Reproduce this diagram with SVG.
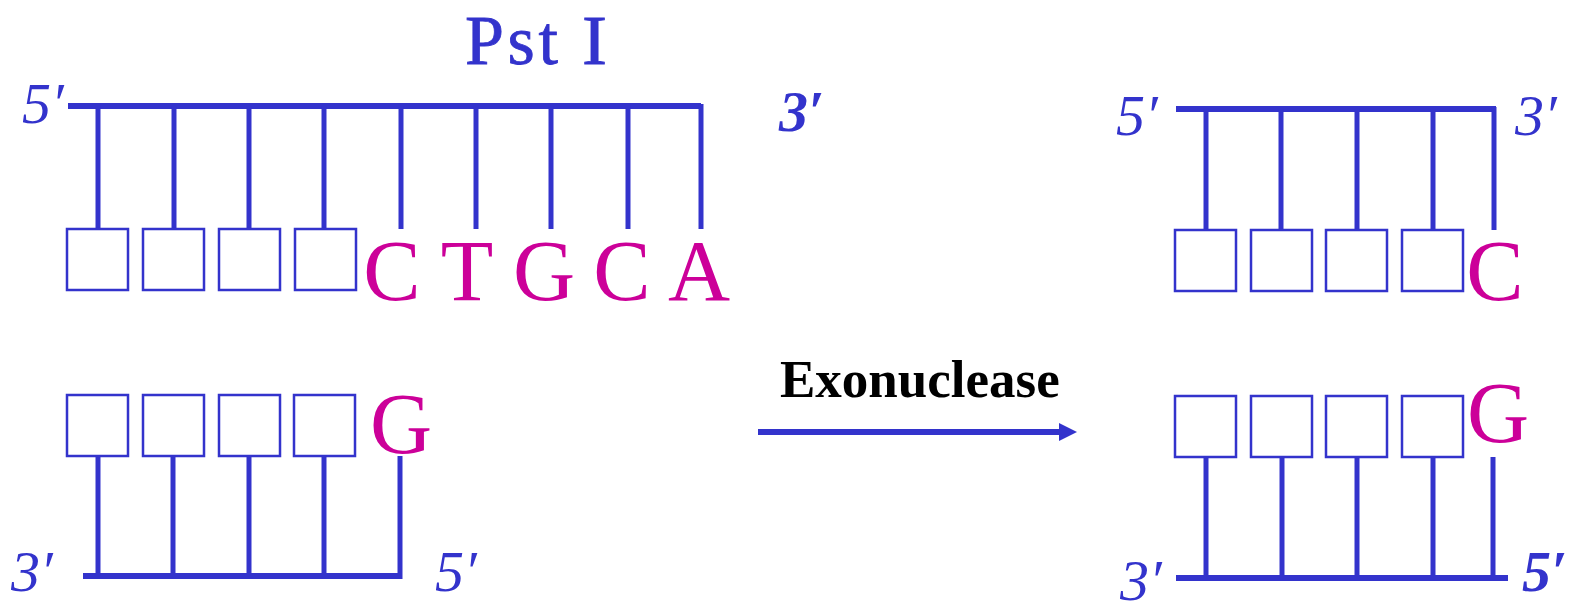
<svg xmlns="http://www.w3.org/2000/svg" width="1576" height="610" viewBox="0 0 1576 610">
  <style>
    .bb { stroke: #3333CC; stroke-width: 6; fill: none; }
    .st { stroke: #3333CC; stroke-width: 5; fill: none; }
    .box { stroke: #3333CC; stroke-width: 2.5; fill: #fff; }
    .end { font-family: "Liberation Serif", serif; font-size: 58px; font-style: italic; fill: #3333CC; }
    .endb { font-family: "Liberation Serif", serif; font-size: 58px; font-style: italic; font-weight: bold; fill: #3333CC; }
    .base { font-family: "Liberation Serif", serif; font-size: 86px; fill: #CC0099; text-anchor: middle; }
    .lbl { font-family: "Liberation Serif", serif; font-size: 53px; font-weight: bold; fill: #000; }
    .site { font-family: "Liberation Serif", serif; font-size: 70px; fill: #3333CC; stroke: #3333CC; stroke-width: 0.8; }
  </style>
  <defs>
    <marker id="arrowHead" viewBox="0 0 10 10" refX="0" refY="5" markerWidth="18" markerHeight="18" orient="auto" markerUnits="userSpaceOnUse">
      <path d="M0,0 L10,5 L0,10 z" fill="#3333CC"/>
    </marker>
  </defs>
  <rect width="1576" height="610" fill="#fff"/>

  <!-- recognition site label -->
  <g id="pst1">
    <text class="site" x="465" y="64" textLength="93" lengthAdjust="spacing">Pst</text>
    <text class="site" x="582" y="64" textLength="25" lengthAdjust="spacingAndGlyphs">I</text>
  </g>

  <!-- cut strand, top left: 5' ... 3' -->
  <g id="strand-top-left">
    <line class="bb" x1="68" y1="106" x2="701" y2="106"/>
    <line class="st" x1="98" y1="106" x2="98" y2="229"/>
    <line class="st" x1="174" y1="106" x2="174" y2="229"/>
    <line class="st" x1="249" y1="106" x2="249" y2="229"/>
    <line class="st" x1="324" y1="106" x2="324" y2="229"/>
    <line class="st" x1="401" y1="106" x2="401" y2="229"/>
    <line class="st" x1="476" y1="106" x2="476" y2="229"/>
    <line class="st" x1="551" y1="106" x2="551" y2="229"/>
    <line class="st" x1="628" y1="106" x2="628" y2="229"/>
    <line class="st" x1="701" y1="104" x2="701" y2="229"/>
    <rect class="box" x="67" y="229" width="61" height="61"/>
    <rect class="box" x="143" y="229" width="61" height="61"/>
    <rect class="box" x="219" y="229" width="61" height="61"/>
    <rect class="box" x="295" y="229" width="61" height="61"/>
    <text class="base" x="392" y="300">C</text>
    <text class="base" x="467" y="300">T</text>
    <text class="base" x="544" y="300">G</text>
    <text class="base" x="622" y="300">C</text>
    <text class="base" x="699" y="300">A</text>
    <text class="end" x="22" y="123">5′</text>
    <text class="endb" x="779" y="131">3′</text>
  </g>

  <!-- complementary strand, bottom left: 3' ... 5' -->
  <g id="strand-bottom-left">
    <rect class="box" x="67" y="395" width="61" height="61"/>
    <rect class="box" x="143" y="395" width="61" height="61"/>
    <rect class="box" x="219" y="395" width="61" height="61"/>
    <rect class="box" x="294" y="395" width="61" height="61"/>
    <text class="base" x="401" y="453">G</text>
    <line class="st" x1="98" y1="456" x2="98" y2="577"/>
    <line class="st" x1="173" y1="456" x2="173" y2="577"/>
    <line class="st" x1="249" y1="456" x2="249" y2="577"/>
    <line class="st" x1="324" y1="456" x2="324" y2="577"/>
    <line class="st" x1="400" y1="456" x2="400" y2="579"/>
    <line class="bb" x1="83" y1="576" x2="400" y2="576"/>
    <text class="end" x="11" y="591">3′</text>
    <text class="end" x="435" y="591">5′</text>
  </g>

  <!-- enzyme step -->
  <g id="connectors">
    <text class="lbl" x="780" y="397">Exonuclease</text>
    <line x1="758" y1="432" x2="1059" y2="432" stroke="#3333CC" stroke-width="6" marker-end="url(#arrowHead)"/>
  </g>

  <!-- trimmed strand, top right -->
  <g id="strand-top-right">
    <line class="bb" x1="1176" y1="109" x2="1496" y2="109"/>
    <line class="st" x1="1206" y1="109" x2="1206" y2="230"/>
    <line class="st" x1="1281" y1="109" x2="1281" y2="230"/>
    <line class="st" x1="1357" y1="109" x2="1357" y2="230"/>
    <line class="st" x1="1433" y1="109" x2="1433" y2="230"/>
    <line class="st" x1="1494" y1="107" x2="1494" y2="230"/>
    <rect class="box" x="1175" y="230" width="61" height="61"/>
    <rect class="box" x="1251" y="230" width="61" height="61"/>
    <rect class="box" x="1326" y="230" width="61" height="61"/>
    <rect class="box" x="1402" y="230" width="61" height="61"/>
    <text class="base" x="1495" y="300">C</text>
    <text class="end" x="1116" y="135">5′</text>
    <text class="end" x="1515" y="135">3′</text>
  </g>

  <!-- trimmed complementary strand, bottom right -->
  <g id="strand-bottom-right">
    <rect class="box" x="1175" y="396" width="61" height="61"/>
    <rect class="box" x="1251" y="396" width="61" height="61"/>
    <rect class="box" x="1326" y="396" width="61" height="61"/>
    <rect class="box" x="1402" y="396" width="61" height="61"/>
    <text class="base" x="1498" y="442">G</text>
    <line class="st" x1="1206" y1="457" x2="1206" y2="578"/>
    <line class="st" x1="1282" y1="457" x2="1282" y2="578"/>
    <line class="st" x1="1357" y1="457" x2="1357" y2="578"/>
    <line class="st" x1="1433" y1="457" x2="1433" y2="578"/>
    <line class="st" x1="1493" y1="457" x2="1493" y2="578"/>
    <line class="bb" x1="1176" y1="578" x2="1508" y2="578"/>
    <text class="end" x="1120" y="600">3′</text>
    <text class="endb" x="1522" y="591">5′</text>
  </g>
</svg>
